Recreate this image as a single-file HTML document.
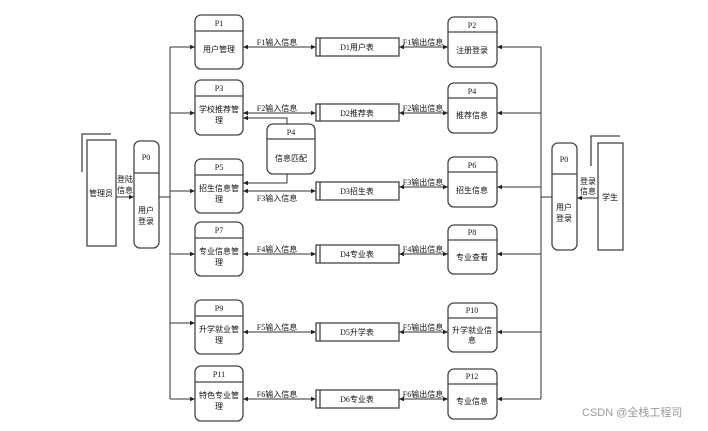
<!DOCTYPE html>
<html><head><meta charset="utf-8"><style>
html,body{margin:0;padding:0;background:#fff;}
svg text{font-family:"Liberation Sans","Noto Sans CJK SC",sans-serif;font-size:8px;fill:#111;}
.t{font-family:"Liberation Serif","Noto Sans CJK SC",serif;}
</style></head><body>
<svg width="708" height="426" viewBox="0 0 708 426" xmlns="http://www.w3.org/2000/svg">
<defs><marker id="a" markerWidth="6" markerHeight="6" refX="5" refY="3" orient="auto-start-reverse" markerUnits="userSpaceOnUse"><path d="M0,0.8 L5,3 L0,5.2z" fill="#222"/></marker></defs>
<g fill="none" stroke="#444" stroke-width="1.3">
<!-- left boxes -->
<rect x="195" y="15" width="48" height="54" rx="6"/><line x1="195" y1="31" x2="243" y2="31"/>
<rect x="195" y="80" width="48" height="55" rx="6"/><line x1="195" y1="96" x2="243" y2="96"/>
<rect x="195" y="159" width="48" height="54" rx="6"/><line x1="195" y1="175" x2="243" y2="175"/>
<rect x="195" y="222" width="48" height="54" rx="6"/><line x1="195" y1="238" x2="243" y2="238"/>
<rect x="195" y="300" width="48" height="54" rx="6"/><line x1="195" y1="316" x2="243" y2="316"/>
<rect x="195" y="366" width="48" height="55" rx="6"/><line x1="195" y1="382" x2="243" y2="382"/>
<!-- right boxes -->
<rect x="448" y="17" width="49" height="50" rx="6"/><line x1="448" y1="32" x2="497" y2="32"/>
<rect x="448" y="83" width="49" height="50" rx="6"/><line x1="448" y1="98" x2="497" y2="98"/>
<rect x="448" y="157" width="49" height="50" rx="6"/><line x1="448" y1="172" x2="497" y2="172"/>
<rect x="448" y="225" width="49" height="49" rx="6"/><line x1="448" y1="240" x2="497" y2="240"/>
<rect x="448" y="303" width="49" height="49" rx="6"/><line x1="448" y1="318" x2="497" y2="318"/>
<rect x="448" y="369" width="49" height="50" rx="6"/><line x1="448" y1="384" x2="497" y2="384"/>
<!-- P4 -->
<rect x="267" y="124" width="48" height="50" rx="6"/><line x1="267" y1="139" x2="315" y2="139"/>
<!-- stores -->
<rect x="316" y="38" width="83" height="18"/><line x1="320" y1="38" x2="320" y2="56"/>
<rect x="316" y="104" width="83" height="17"/><line x1="320" y1="104" x2="320" y2="121"/>
<rect x="316" y="182" width="83" height="18"/><line x1="320" y1="182" x2="320" y2="200"/>
<rect x="316" y="245" width="83" height="18"/><line x1="320" y1="245" x2="320" y2="263"/>
<rect x="316" y="323" width="83" height="18"/><line x1="320" y1="323" x2="320" y2="341"/>
<rect x="316" y="390" width="83" height="18"/><line x1="320" y1="390" x2="320" y2="408"/>
<!-- P0 left, admin -->
<rect x="134" y="141" width="25" height="107" rx="6"/><line x1="134" y1="173" x2="159" y2="173"/>
<rect x="87" y="140" width="29" height="106"/>
<polyline points="82,172 82,134 111,134"/>
<!-- P0 right, student -->
<rect x="552" y="143" width="25" height="107" rx="6"/><line x1="552" y1="174" x2="577" y2="174"/>
<rect x="598" y="143" width="25" height="107"/>
<polyline points="591,166 591,136 620,136"/>
</g>
<g fill="none" stroke="#333" stroke-width="1">
<line x1="116" y1="197" x2="134" y2="197" marker-end="url(#a)"/>
<line x1="159" y1="197" x2="170" y2="197"/>
<line x1="170" y1="47" x2="170" y2="399"/>
<line x1="170" y1="47" x2="195" y2="47" marker-end="url(#a)"/>
<line x1="170" y1="113" x2="195" y2="113" marker-end="url(#a)"/>
<line x1="170" y1="191" x2="195" y2="191" marker-end="url(#a)"/>
<line x1="170" y1="254" x2="195" y2="254" marker-end="url(#a)"/>
<line x1="170" y1="323" x2="195" y2="323" marker-end="url(#a)"/>
<line x1="170" y1="399" x2="195" y2="399" marker-end="url(#a)"/>
<line x1="598" y1="198" x2="577" y2="198" marker-end="url(#a)"/>
<line x1="552" y1="197" x2="541" y2="197"/>
<line x1="541" y1="47" x2="541" y2="399"/>
<line x1="541" y1="47" x2="497" y2="47" marker-end="url(#a)"/>
<line x1="541" y1="113" x2="497" y2="113" marker-end="url(#a)"/>
<line x1="541" y1="187" x2="497" y2="187" marker-end="url(#a)"/>
<line x1="541" y1="254" x2="497" y2="254" marker-end="url(#a)"/>
<line x1="541" y1="332" x2="497" y2="332" marker-end="url(#a)"/>
<line x1="541" y1="399" x2="497" y2="399" marker-end="url(#a)"/>
<line x1="243" y1="47" x2="316" y2="47" marker-start="url(#a)" marker-end="url(#a)"/>
<line x1="243" y1="113" x2="316" y2="113" marker-start="url(#a)" marker-end="url(#a)"/>
<line x1="243" y1="191" x2="316" y2="191" marker-start="url(#a)" marker-end="url(#a)"/>
<line x1="243" y1="254" x2="316" y2="254" marker-start="url(#a)" marker-end="url(#a)"/>
<line x1="243" y1="332" x2="316" y2="332" marker-start="url(#a)" marker-end="url(#a)"/>
<line x1="243" y1="399" x2="316" y2="399" marker-start="url(#a)" marker-end="url(#a)"/>
<line x1="399" y1="47" x2="448" y2="47" marker-start="url(#a)" marker-end="url(#a)"/>
<line x1="399" y1="113" x2="448" y2="113" marker-start="url(#a)" marker-end="url(#a)"/>
<line x1="399" y1="187" x2="448" y2="187" marker-start="url(#a)" marker-end="url(#a)"/>
<line x1="399" y1="254" x2="448" y2="254" marker-start="url(#a)" marker-end="url(#a)"/>
<line x1="399" y1="332" x2="448" y2="332" marker-start="url(#a)" marker-end="url(#a)"/>
<line x1="399" y1="399" x2="448" y2="399" marker-start="url(#a)" marker-end="url(#a)"/>
<polyline points="287,124 287,118 243,118" marker-end="url(#a)"/>
<polyline points="287,174 287,183 243,183" marker-end="url(#a)"/>
</g>
<g text-anchor="middle">
<text class="t" x="219" y="26">P1</text><text x="219" y="52">用户管理</text>
<text class="t" x="219" y="91">P3</text><text x="219" y="112">学校推荐管</text><text x="219" y="123">理</text>
<text class="t" x="219" y="170">P5</text><text x="219" y="191">招生信息管</text><text x="219" y="202">理</text>
<text class="t" x="219" y="233">P7</text><text x="219" y="254">专业信息管</text><text x="219" y="265">理</text>
<text class="t" x="219" y="311">P9</text><text x="219" y="332">升学就业管</text><text x="219" y="343">理</text>
<text class="t" x="219" y="377">P11</text><text x="219" y="398">特色专业管</text><text x="219" y="409">理</text>
<text class="t" x="472" y="28">P2</text><text x="472" y="53">注册登录</text>
<text class="t" x="472" y="94">P4</text><text x="472" y="118">推荐信息</text>
<text class="t" x="472" y="168">P6</text><text x="472" y="193">招生信息</text>
<text class="t" x="472" y="235">P8</text><text x="472" y="260">专业查看</text>
<text class="t" x="472" y="313">P10</text><text x="472" y="333">升学就业信</text><text x="472" y="343">息</text>
<text class="t" x="472" y="379">P12</text><text x="472" y="404">专业信息</text>
<text class="t" x="291" y="135">P4</text><text x="291" y="161">信息匹配</text>
<text class="t" x="357" y="50">D1用户表</text>
<text class="t" x="357" y="116">D2推荐表</text>
<text class="t" x="357" y="194">D3招生表</text>
<text class="t" x="357" y="257">D4专业表</text>
<text class="t" x="357" y="335">D5升学表</text>
<text class="t" x="357" y="402">D6专业表</text>
<text class="t" x="277" y="45">F1输入信息</text><text class="t" x="423" y="45">F1输出信息</text>
<text class="t" x="277" y="111">F2输入信息</text><text class="t" x="423" y="111">F2输出信息</text>
<text class="t" x="277" y="201">F3输入信息</text><text class="t" x="423" y="185">F3输出信息</text>
<text class="t" x="277" y="252">F4输入信息</text><text class="t" x="423" y="252">F4输出信息</text>
<text class="t" x="277" y="330">F5输入信息</text><text class="t" x="423" y="330">F5输出信息</text>
<text class="t" x="277" y="397">F6输入信息</text><text class="t" x="423" y="397">F6输出信息</text>
<text class="t" x="146" y="160">P0</text><text x="146" y="213">用户</text><text x="146" y="224">登录</text>
<text class="t" x="564" y="162">P0</text><text x="564" y="210">用户</text><text x="564" y="221">登录</text>
<text x="101" y="196">管理员</text>
<text x="125" y="182">登陆</text><text x="125" y="193">信息</text>
<text x="610" y="200">学生</text>
<text x="588" y="184">登录</text><text x="588" y="194">信息</text>
</g>
<text x="582" y="416" style="font-size:11px;fill:#999">CSDN @全栈工程司</text>
</svg>
</body></html>
